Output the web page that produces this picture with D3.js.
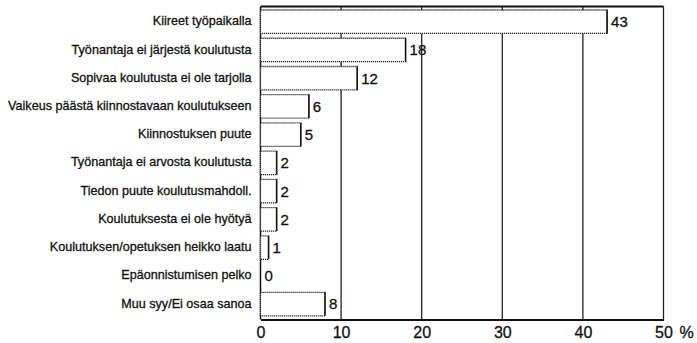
<!DOCTYPE html>
<html>
<head>
<meta charset="utf-8">
<script src="https://cdn.jsdelivr.net/npm/d3@7"></script>
<style>
  html, body { margin: 0; padding: 0; background: #fff; }
  svg { display: block; }
  text { font-family: "Liberation Sans Narrow", "Arial Narrow", "Liberation Sans", sans-serif; fill: #111; stroke: #111; stroke-width: 0.3px; }
</style>
</head>
<body>
<svg id="chart" width="697" height="343"></svg>
<script>
// Syyt, miksi ei ole osallistunut koulutukseen (%)
const categories = [
  "Kiireet työpaikalla",
  "Työnantaja ei järjestä koulutusta",
  "Sopivaa koulutusta ei ole tarjolla",
  "Vaikeus päästä kiinnostavaan koulutukseen",
  "Kiinnostuksen puute",
  "Työnantaja ei arvosta koulutusta",
  "Tiedon puute koulutusmahdoll.",
  "Koulutuksesta ei ole hyötyä",
  "Koulutuksen/opetuksen heikko laatu",
  "Epäonnistumisen pelko",
  "Muu syy/Ei osaa sanoa"
];
const values = [43, 18, 12, 6, 5, 2, 2, 2, 1, 0, 8];
const xTicks = [0, 10, 20, 30, 40, 50];

const rows = categories.map((c, i) => ({ name: c, value: values[i] }));

const svg = d3.select("#chart");
const mLeft = 260.5, mRight = 663.5, mTop = 6.5, mBottom = 319.5;

const x = d3.scaleLinear().domain([0, 50]).range([mLeft, mRight]);
const y = d3.scaleBand().domain(categories).range([7.2, 318.6]).paddingInner(0.17).paddingOuter(0.1);
const bh = y.bandwidth();

// Pystysuorat apuviivat
svg.append("g")
  .selectAll("line")
  .data(xTicks.filter(d => d > 0))
  .join("line")
  .attr("x1", d => x(d)).attr("x2", d => x(d))
  .attr("y1", mTop).attr("y2", mBottom)
  .attr("stroke", "#222").attr("stroke-width", 1.3);

// Kehyksen ylä- ja vasen reuna
svg.append("line").attr("x1", mLeft).attr("x2", mRight).attr("y1", mTop).attr("y2", mTop)
  .attr("stroke", "#111").attr("stroke-width", 1.8);
svg.append("line").attr("x1", mLeft).attr("x2", mLeft).attr("y1", mTop).attr("y2", mBottom)
  .attr("stroke", "#111").attr("stroke-width", 1.5);

// Pylväät
const bars = svg.append("g").selectAll("g").data(rows).join("g");
const filled = bars.filter(d => d.value > 0);
filled.append("rect")
  .attr("x", mLeft)
  .attr("y", d => y(d.name))
  .attr("width", d => x(d.value) - mLeft)
  .attr("height", bh)
  .attr("fill", "#fff")
  .attr("stroke", "#222")
  .attr("stroke-width", 1.3)
  .attr("stroke-dasharray", "1.2,0.8");
filled.append("line")
  .attr("x1", d => x(d.value)).attr("x2", d => x(d.value))
  .attr("y1", d => y(d.name))
  .attr("y2", d => y(d.name) + bh)
  .attr("stroke", "#111").attr("stroke-width", 1.5);

// Arvot pylväiden perään
bars.append("text")
  .attr("x", d => x(d.value) + 4)
  .attr("y", d => y(d.name) + bh / 2)
  .attr("dy", "0.36em")
  .attr("font-size", 15)
  .text(d => d.value);

// Luokkien nimet
svg.append("g").selectAll("text").data(categories).join("text")
  .attr("x", mLeft - 9)
  .attr("y", d => y(d) + bh / 2 - 1)
  .attr("dy", "0.36em")
  .attr("text-anchor", "end")
  .attr("font-size", 12.6)
  .text(d => d);

// Vaaka-akseli
const xAxis = d3.axisBottom(x).tickValues(xTicks).tickSize(0).tickPadding(7);
const ax = svg.append("g").attr("transform", `translate(0,${mBottom})`).call(xAxis);
ax.select(".domain").attr("stroke", "#111").attr("stroke-width", 2);
ax.selectAll("text").attr("font-size", 16).attr("fill", "#111")
  .style("font-family", '"Liberation Sans Narrow", "Arial Narrow", sans-serif');
svg.append("text")
  .attr("x", x(50) + 16)
  .attr("y", mBottom + 7)
  .attr("dy", "0.71em")
  .attr("font-size", 16)
  .text("%");
</script>
</body>
</html>
